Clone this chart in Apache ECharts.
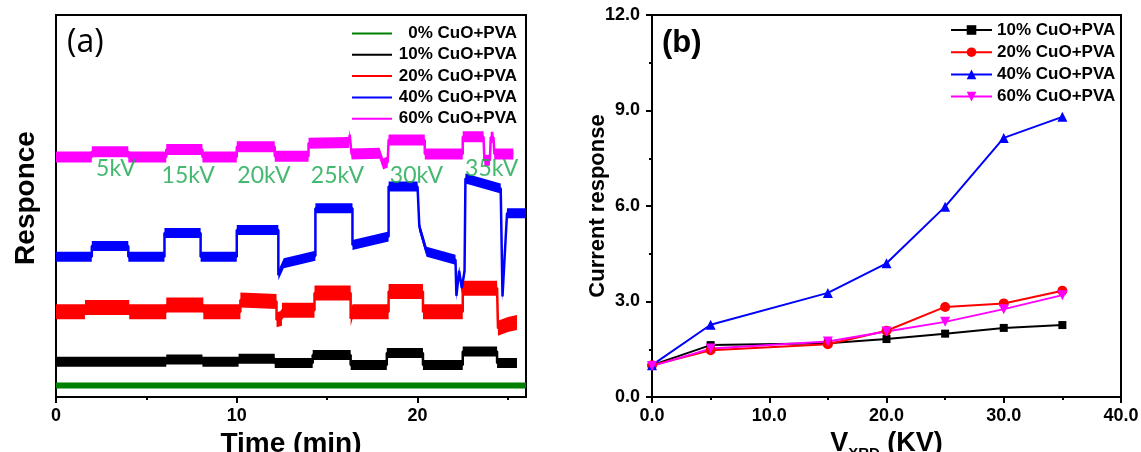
<!DOCTYPE html>
<html>
<head>
<meta charset="utf-8">
<script src="https://cdn.jsdelivr.net/npm/echarts@6/dist/echarts.min.js"></script>
<style>
  html, body { margin: 0; padding: 0; background: #fff; }
  #chart { width: 1141px; height: 452px; }
</style>
</head>
<body>
<div id="chart"></div>
<script>
// ---- panel (a): response vs time, [min, response] ----
const resp0 = [[0, 3.0], [26, 3.0]];
const resp10 = [[0, 9.2], [6.1, 9.2], [6.1, 9.8], [8.1, 9.8], [8.1, 9.2], [10.1, 9.2], [10.1, 10.0],
  [12.1, 10.0], [12.1, 8.9], [14.2, 8.9], [14.2, 11.0], [16.3, 11.0], [16.3, 8.4], [18.3, 8.4],
  [18.3, 11.5], [20.3, 11.5], [20.3, 8.4], [22.5, 8.4], [22.5, 11.9], [24.4, 11.9], [24.4, 8.9], [25.5, 8.9]];
const resp20 = [[0, 22.3], [1.6, 22.3], [1.6, 23.4], [4.05, 23.4], [4.05, 22.3], [6.1, 22.3], [6.1, 24.1],
  [8.15, 24.1], [8.15, 22.3], [10.2, 22.3], [10.2, 25.4], [12.2, 25.0], [12.2, 20.2], [12.5, 20.6],
  [12.5, 22.7], [14.3, 22.7], [14.3, 27.2], [16.3, 27.2], [16.3, 20.5], [16.4, 22.3], [18.4, 22.3],
  [18.4, 27.6], [20.3, 27.6], [20.3, 22.3], [22.5, 22.3], [22.5, 28.5], [24.4, 28.5], [24.45, 18.0],
  [25.0, 19.0], [25.5, 19.5]];
const resp40 = [[0, 36.7], [1.98, 36.7], [1.98, 39.5], [4.0, 39.5], [4.0, 36.7], [6.0, 36.7], [6.0, 42.9],
  [8.0, 42.9], [8.0, 36.7], [10.0, 36.7], [10.0, 43.7], [12.3, 43.7], [12.3, 31.9], [12.6, 35.0],
  [14.35, 37.0], [14.35, 49.4], [16.4, 49.4], [16.4, 39.8], [18.4, 42.0], [18.4, 55.1], [20.0, 55.1],
  [20.1, 44.6], [20.5, 38.0], [22.1, 35.9], [22.15, 26.5], [22.3, 33.0], [22.45, 28.5], [22.6, 33.0],
  [22.65, 57.2], [24.6, 54.6], [24.7, 26.3], [24.95, 48.1], [26, 48.1]];
const resp60 = [[0, 62.8], [1.98, 62.8], [1.98, 64.2], [4.0, 64.2], [4.0, 62.8], [6.1, 62.8], [6.1, 64.8],
  [8.1, 64.8], [8.1, 62.8], [10.0, 62.8], [10.0, 65.5], [12.1, 65.5], [12.1, 63.0], [13.97, 63.0],
  [13.97, 66.4], [16.2, 66.6], [16.25, 68.6], [16.35, 63.6], [17.9, 63.8], [18.1, 61.0], [18.35, 61.5],
  [18.4, 67.3], [20.4, 67.3], [20.4, 63.6], [22.5, 63.6], [22.5, 68.1], [23.65, 68.1], [23.7, 62.0],
  [24.0, 62.0], [24.05, 68.0], [24.2, 68.0], [24.25, 63.6], [25.3, 63.6]];

const kvText = ['5kV', '15kV', '20kV', '25kV', '30kV', '35kV'];
const kvTime = [3.32, 7.31, 11.5, 15.57, 19.94, 24.1];
const kvResp = [59.8, 58.0, 58.0, 58.0, 58.0, 59.8];

const namesA = ['0% CuO+PVA', '10% CuO+PVA', '20% CuO+PVA', '40% CuO+PVA', '60% CuO+PVA'];
const colorsA = ['#008000', '#000000', '#ff0000', '#0000ff', '#ff00ff'];
const noiseA = [6, 10, 15, 10, 11]; // visual thickness of the noisy bands, px

// ---- panel (b): current response vs X-ray tube voltage ----
const voltage = [0, 5, 15, 20, 25, 30, 35];
const cur10 = [1.0, 1.63, 1.69, 1.82, 1.99, 2.17, 2.26];
const cur20 = [1.0, 1.47, 1.66, 2.08, 2.83, 2.94, 3.34];
const cur40 = [1.0, 2.27, 3.27, 4.2, 5.98, 8.14, 8.8];
const cur60 = [0.97, 1.52, 1.74, 2.06, 2.36, 2.76, 3.2];

const namesB = ['10% CuO+PVA', '20% CuO+PVA', '40% CuO+PVA', '60% CuO+PVA'];
const colorsB = ['#000000', '#ff0000', '#0000ff', '#ff00ff'];

const chart = echarts.init(document.getElementById('chart'));

const FONT = 'Liberation Sans';
const bold = { fontFamily: FONT, fontWeight: 'bold', color: '#000' };
const tracesA = [resp0, resp10, resp20, resp40, resp60];

// noisy band around each trace, drawn as one polygon through the axis scales
const bandsA = tracesA.map((trace, i) => ({
  type: 'custom',
  xAxisIndex: 0,
  yAxisIndex: 0,
  data: trace,
  silent: true,
  clip: true,
  z: 1,
  renderItem: (params, api) => {
    if (params.dataIndex !== 0) return null;
    const h = noiseA[i] / 2;
    const pts = trace.map(p => api.coord(p));
    const top = pts.map(p => [p[0], p[1] - h]);
    const bottom = pts.map(p => [p[0], p[1] + h]).reverse();
    return { type: 'polygon', shape: { points: top.concat(bottom) }, style: { fill: colorsA[i] } };
  }
}));

const seriesA = tracesA.map((d, i) => ({
  name: namesA[i],
  type: 'line',
  xAxisIndex: 0,
  yAxisIndex: 0,
  data: d,
  symbol: 'none',
  color: colorsA[i],
  lineStyle: { width: 2.5 },
  z: 2
}));

const symbolsB = ['rect', 'circle', 'triangle', 'triangle'];
const seriesB = [cur10, cur20, cur40, cur60].map((d, i) => ({
  name: 'b:' + namesB[i],
  type: 'line',
  xAxisIndex: 2,
  yAxisIndex: 1,
  data: voltage.map((v, j) => [v, d[j]]),
  symbol: symbolsB[i],
  symbolSize: i === 0 ? 8 : 10,
  symbolRotate: i === 3 ? 180 : 0,
  color: colorsB[i],
  lineStyle: { width: 2 }
}));

const kvSeries = {
  type: 'scatter',
  xAxisIndex: 0,
  yAxisIndex: 0,
  symbolSize: 1,
  itemStyle: { color: 'transparent' },
  data: kvText.map((t, i) => ({ name: t, value: [kvTime[i], kvResp[i]] })),
  label: {
    show: true,
    position: 'inside',
    formatter: p => p.name,
    fontFamily: 'Lato',
    fontSize: 23,
    color: '#16a64c'
  },
  z: 20
};

const option = {
  animation: false,
  backgroundColor: '#fff',
  grid: [
    { left: 56, right: 615, top: 15, bottom: 55, outerBoundsMode: 'none', show: true, borderColor: '#000', borderWidth: 2 },
    { left: 652, right: 20, top: 15, bottom: 55, outerBoundsMode: 'none', show: true, borderColor: '#000', borderWidth: 2 }
  ],
  legend: [
    {
      data: namesA,
      orient: 'vertical',
      left: 347,
      top: 20,
      icon: 'rect',
      itemWidth: 40,
      itemHeight: 2,
      itemGap: 4.3,
      selectedMode: false,
      formatter: n => '{t|' + n + '}',
      textStyle: { rich: { t: Object.assign({ width: 120, align: 'right', fontSize: 17 }, bold) } }
    },
    {
      data: namesB.map(n => 'b:' + n),
      orient: 'vertical',
      left: 945,
      top: 15,
      itemWidth: 41,
      itemHeight: 12,
      itemGap: 2.2,
      selectedMode: false,
      lineStyle: { width: 2 },
      formatter: n => n.slice(2),
      textStyle: Object.assign({ fontSize: 17, lineHeight: 20 }, bold)
    }
  ],
  xAxis: [
    {
      gridIndex: 0, type: 'value', min: 0, max: 26,
      name: 'Time (min)', nameLocation: 'middle', nameGap: 30,
      nameTextStyle: Object.assign({ fontSize: 28 }, bold),
      axisLine: { lineStyle: { color: '#000', width: 2 } },
      axisTick: { customValues: [0, 10, 20], length: 6, lineStyle: { width: 2 } },
      axisLabel: Object.assign({ customValues: [0, 10, 20], fontSize: 18, margin: 10 }, bold),
      splitLine: { show: false }
    },
    {
      gridIndex: 0, type: 'value', min: 0, max: 26, position: 'bottom',
      axisLine: { show: false },
      axisTick: { customValues: [5, 15, 25], length: 3, lineStyle: { width: 2, color: '#000' } },
      axisLabel: { show: false },
      splitLine: { show: false }
    },
    {
      gridIndex: 1, type: 'value', min: 0, max: 40, interval: 10,
      name: '{v|V}{s|XRD}{v| (KV)}', nameLocation: 'middle', nameGap: 28,
      nameTextStyle: {
        rich: {
          v: Object.assign({ fontSize: 27, lineHeight: 30, verticalAlign: 'top' }, bold),
          s: Object.assign({ fontSize: 15, lineHeight: 16, padding: [16, 0, 0, 0], verticalAlign: 'top' }, bold)
        }
      },
      axisLine: { lineStyle: { color: '#000', width: 2 } },
      axisTick: { length: 6, lineStyle: { width: 2 } },
      minorTick: { show: true, splitNumber: 2, length: 3, lineStyle: { width: 2, color: '#000' } },
      axisLabel: Object.assign({ fontSize: 18, margin: 10, formatter: v => v.toFixed(1) }, bold),
      splitLine: { show: false },
      minorSplitLine: { show: false }
    }
  ],
  yAxis: [
    {
      gridIndex: 0, type: 'value', min: 0, max: 100,
      name: 'Responce', nameLocation: 'middle', nameGap: 16,
      nameTextStyle: Object.assign({ fontSize: 28, padding: [0, 0, 0, 16] }, bold),
      axisLine: { lineStyle: { color: '#000', width: 2 } },
      axisTick: { show: false },
      axisLabel: { show: false },
      splitLine: { show: false }
    },
    {
      gridIndex: 1, type: 'value', min: 0, max: 12, interval: 3,
      name: 'Current response', nameLocation: 'middle', nameGap: 43, nameMoveOverlap: false,
      nameTextStyle: Object.assign({ fontSize: 22 }, bold),
      axisLine: { lineStyle: { color: '#000', width: 2 } },
      axisTick: { length: 6, lineStyle: { width: 2 } },
      minorTick: { show: true, splitNumber: 2, length: 3, lineStyle: { width: 2, color: '#000' } },
      axisLabel: Object.assign({ fontSize: 18, margin: 12, formatter: v => v.toFixed(1) }, bold),
      splitLine: { show: false },
      minorSplitLine: { show: false }
    }
  ],
  graphic: [
    { type: 'text', left: 67, top: 27, style: { text: '(a)', font: '32px "Open Sans"', fill: '#000' } },
    { type: 'text', left: 662, top: 28, style: { text: '(b)', font: 'bold 31px "Liberation Sans"', fill: '#000' } }
  ],
  series: bandsA.concat(seriesA, [kvSeries], seriesB)
};

chart.setOption(option);
</script>
</body>
</html>
